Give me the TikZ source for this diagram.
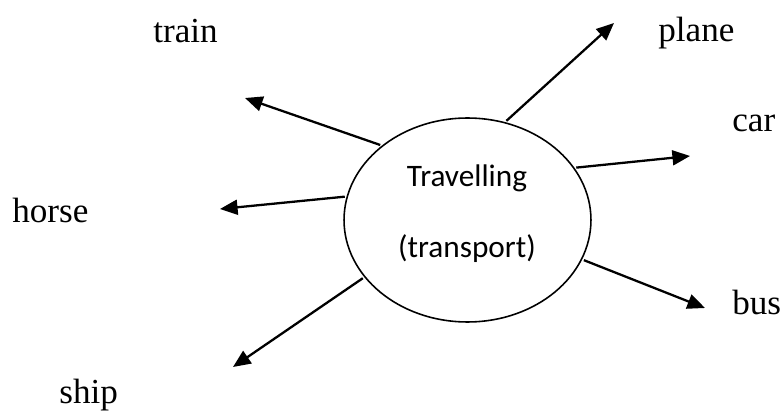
\documentclass[tikz,border=0pt]{standalone}
\usepackage{fontspec}
\setmainfont{Liberation Serif}
\newfontfamily\calibri{Carlito}
\usetikzlibrary{arrows.meta,shapes.geometric}
\begin{document}
\begin{tikzpicture}[x=0.02cm,y=-0.02cm,
    arr/.style={-{Triangle[length=10pt,width=8.5pt]},line width=1.3pt,shorten <=1pt},
    lbl/.style={anchor=base west,inner sep=0pt,font=\fontsize{20}{24}\selectfont}]
  \useasboundingbox (0,0) rectangle (782,412);
  % centre
  \node[draw,ellipse,line width=0.9pt,inner sep=0pt,minimum width=4.94cm,minimum height=4.08cm]
        (travel) at (467.5,220) {};
  \node[align=center,inner sep=0pt,font=\calibri\fontsize{17.8}{40.3}\selectfont]
        (travelTxt) at (467,214) {Travelling\\(transport)};
  % labels
  \node[lbl] (train) at (153,43) {train};
  \node[lbl] (plane) at (658,42) {plane};
  \node[lbl] (car) at (732,132) {car};
  \node[lbl] (horse) at (12,223) {horse};
  \node[lbl] (bus) at (732,315) {bus};
  \node[lbl] (ship) at (59,403) {ship};
  % arrow tips
  \coordinate (trainT) at (245,98);
  \coordinate (planeT) at (614,23);
  \coordinate (carT) at (690,156);
  \coordinate (horseT) at (220,209);
  \coordinate (busT) at (705,308);
  \coordinate (shipT) at (233,367);
  \draw[arr] (travel.139) -- (trainT);
  \draw[arr] (travel.69) -- (planeT);
  \draw[arr] (travel.26) -- (carT);
  \draw[arr] (travel.169) -- (horseT);
  \draw[arr] (travel.341) -- (busT);
  \draw[arr] (travel.209) -- (shipT);
\end{tikzpicture}
\end{document}
